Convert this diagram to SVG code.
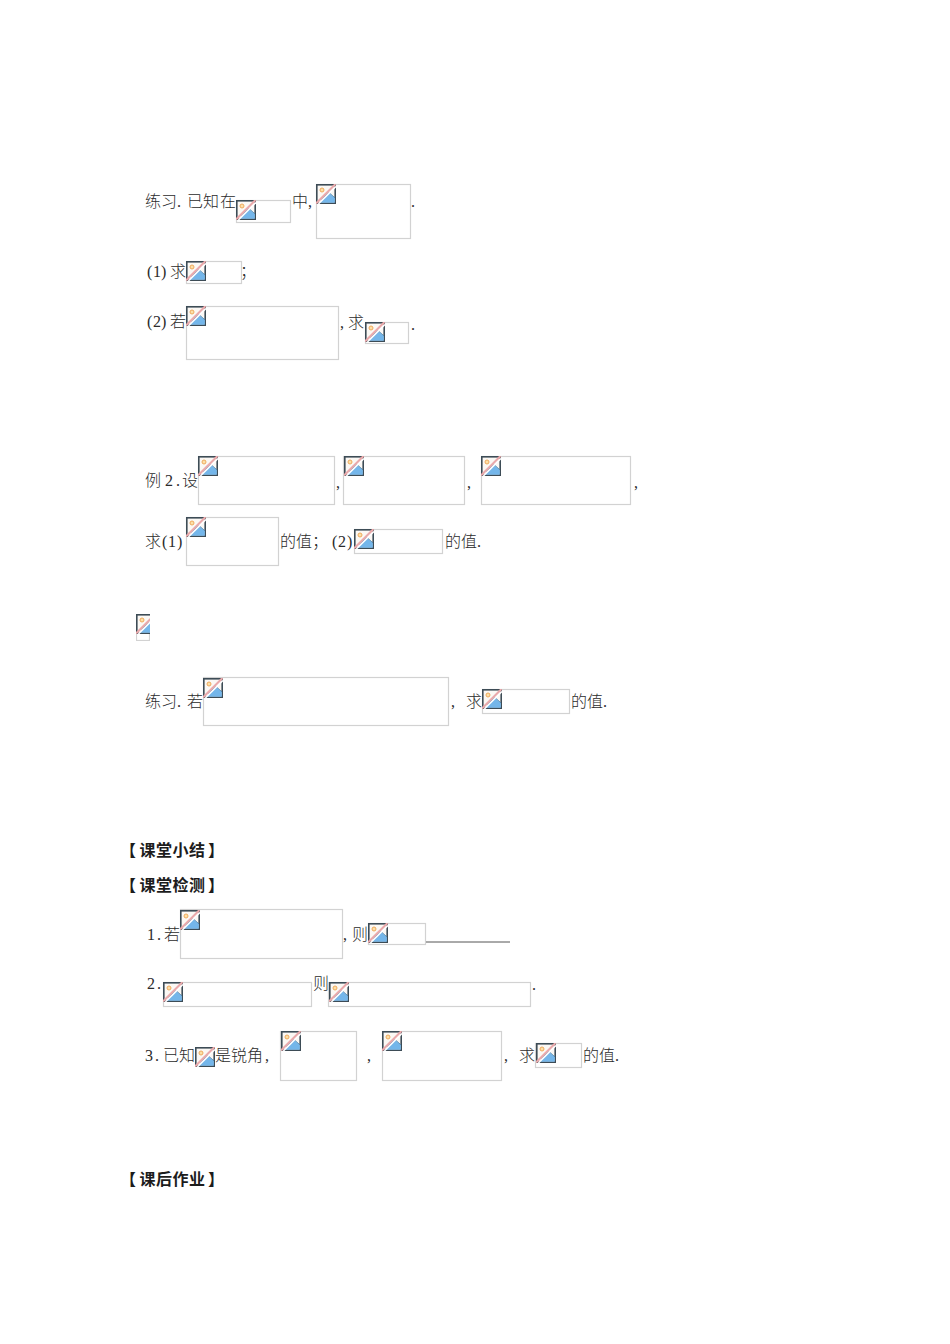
<svg xmlns="http://www.w3.org/2000/svg" width="950" height="1344" viewBox="0 0 950 1344">
<style>
text{font-family:"Liberation Serif","Noto Sans CJK SC",serif;font-size:16px;fill:#2b2b2b;font-weight:300}
.h{font-family:"Noto Sans CJK SC",sans-serif;font-weight:700;fill:#1c1c1c}
.b{fill:#fff;stroke:#d2d2d2;stroke-width:1.2}
</style>
<defs>
<symbol id="icon" viewBox="0 0 20 20" width="20" height="20" overflow="hidden">
<rect x="0.8" y="0.8" width="18.4" height="18.400" fill="#fbf8f4" stroke="#3d4c56" stroke-width="1.600"/>
<circle cx="6" cy="6" r="2" fill="#fbe0a8" stroke="#f0aa5c" stroke-width="1"/>
<path d="M3 18.800 L13 9 L18.800 14 V18.800 Z" fill="#74b6ea"/>
<path d="M5 15.500 L13 8.500 L18.800 13.800" fill="none" stroke="#3a7aa8" stroke-width="0.800"/>
<path d="M2.400 20 L20 2.400" stroke="#fff" stroke-width="1.500" fill="none"/>
<path d="M0 19.500 L19.500 0" stroke="#eaa9ab" stroke-width="2" fill="none"/>
</symbol>
<clipPath id="c11"><rect x="136" y="614" width="14" height="27"/></clipPath>
</defs>
<rect width="950" height="1344" fill="#fff"/>

<g id="p1">
<text x="145 161 177 187 203 220" y="207">练习.已知在</text>
<rect class="b" x="236.500" y="200.500" width="54" height="22"/><use href="#icon" x="236" y="200"/>
<text x="292 308" y="207">中,</text>
<rect class="b" x="316.500" y="184.500" width="94" height="54"/><use href="#icon" x="316" y="184"/>
<text x="411" y="207">.</text>
</g>
<g id="p2">
<text x="147 153 161 170" y="277">(1)求</text>
<rect class="b" x="186.500" y="261.500" width="55" height="22"/><use href="#icon" x="186" y="261"/>
<text x="240" y="277">；</text>
</g>
<g id="p3">
<text x="147 153 161 170" y="327">(2)若</text>
<rect class="b" x="186.500" y="306.500" width="152" height="53"/><use href="#icon" x="186" y="306"/>
<text x="340 348" y="328">,求</text>
<rect class="b" x="365.500" y="322.500" width="43" height="21"/><use href="#icon" x="365" y="322"/>
<text x="411" y="330">.</text>
</g>
<g id="p4">
<text x="145 165 176 182" y="486">例2.设</text>
<rect class="b" x="198.500" y="456.500" width="136" height="48"/><use href="#icon" x="198" y="456"/>
<text x="336" y="488">,</text>
<rect class="b" x="343.500" y="456.500" width="121" height="48"/><use href="#icon" x="344" y="456"/>
<text x="467" y="488">,</text>
<rect class="b" x="481.500" y="456.500" width="149" height="48"/><use href="#icon" x="481" y="456"/>
<text x="634" y="488">,</text>
</g>
<g id="p5">
<text x="145 162 168 177" y="547">求(1)</text>
<rect class="b" x="186.500" y="517.500" width="92" height="48"/><use href="#icon" x="186" y="517"/>
<text x="280 296 312 332 338 347" y="547">的值；(2)</text>
<rect class="b" x="354.500" y="529.500" width="88" height="24"/><use href="#icon" x="354" y="529"/>
<text x="445 461 477" y="547">的值.</text>
</g>
<g id="stray" clip-path="url(#c11)">
<rect class="b" x="136.500" y="614.500" width="13" height="26"/><use href="#icon" x="136" y="614"/>
</g>
<g id="p6">
<text x="145 161 177 187" y="707">练习.若</text>
<rect class="b" x="203.500" y="677.500" width="245" height="48"/><use href="#icon" x="203" y="678"/>
<text x="451 466" y="707">,求</text>
<rect class="b" x="482.500" y="689.500" width="87" height="24"/><use href="#icon" x="482" y="689"/>
<text x="571 587 603" y="707">的值.</text>
</g>
<g id="h1"><text class="h" x="120 139.500 156 172.500 189 208" y="856">【课堂小结】</text></g>
<g id="h2"><text class="h" x="120 139.500 156 172.500 189 208" y="891">【课堂检测】</text></g>
<g id="q1">
<text x="147 157 164" y="940">1.若</text>
<rect class="b" x="180.500" y="909.500" width="162" height="49"/><use href="#icon" x="180" y="910"/>
<text x="343 352" y="940">,则</text>
<rect class="b" x="368.500" y="923.500" width="57" height="21"/><use href="#icon" x="368" y="923"/>
<path d="M426 942H510" stroke="#555" stroke-width="1" fill="none"/>
</g>
<g id="q2">
<text x="147 157" y="989">2.</text>
<rect class="b" x="163.500" y="982.500" width="148" height="24"/><use href="#icon" x="163" y="982"/>
<text x="313" y="989">则</text>
<rect class="b" x="328.500" y="982.500" width="202" height="24"/><use href="#icon" x="329" y="982"/>
<text x="532" y="990">.</text>
</g>
<g id="q3">
<text x="145 155 163 179" y="1061">3.已知</text>
<use href="#icon" x="195" y="1047"/>
<text x="215 231 247 265" y="1061">是锐角,</text>
<rect class="b" x="280.500" y="1031.500" width="76" height="49"/><use href="#icon" x="281" y="1031"/>
<text x="367" y="1061">,</text>
<rect class="b" x="382.500" y="1031.500" width="119" height="49"/><use href="#icon" x="382" y="1031"/>
<text x="504 519" y="1061">,求</text>
<rect class="b" x="535.500" y="1043.500" width="46" height="24"/><use href="#icon" x="536" y="1043"/>
<text x="583 599 615" y="1061">的值.</text>
</g>
<g id="h3"><text class="h" x="120 139.500 156 172.500 189 208" y="1185">【课后作业】</text></g>
</svg>
